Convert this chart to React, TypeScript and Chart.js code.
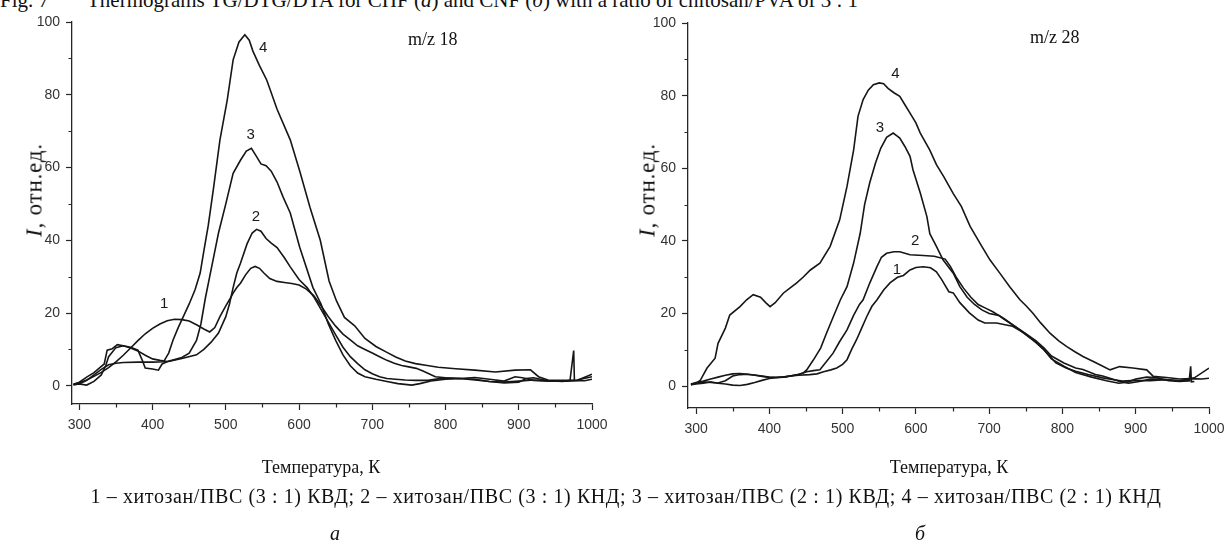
import React, { useEffect, useRef } from "react";
import { Chart, registerables } from "chart.js";

Chart.register(...registerables);

const W = 1227;
const H = 547;

// ---- axis ticks ----
const xTickValues = [300, 400, 500, 600, 700, 800, 900, 1000];
const xMinorValues = [350, 450, 550, 650, 750, 850, 950];
const yTickValues = [0, 20, 40, 60, 80, 100];
const yMinorValues = [10, 30, 50, 70, 90];

// ---- panel a: m/z 18 ----
const a1X = [292,300,310,320,330,340,350,360,370,380,390,400,410,420,430,440,450,460,470,478,485,492,500,506,510,515,520,527,534,540,546,552,560,570,580,590,600,610,620,630,640,650,660,670,680,690,700,710,720,730,740,750,760,770,786,800,820,840,860,880,895,905,920,940,960,980,1000];
const a1Y = [0.4,0.8,1.6,2.6,3.7,5.0,6.6,8.4,10.4,12.4,14.3,15.8,17.0,17.9,18.3,18.2,17.8,16.8,15.6,14.8,16.0,19.0,22.0,24.0,25.5,27.0,28.2,30.5,32.3,32.8,32.3,31.0,29.5,28.7,28.4,28.1,27.7,26.6,24.8,22.0,19.0,16.4,14.2,12.6,11.0,10.0,9.0,8.0,7.0,6.2,5.6,5.2,4.8,4.0,2.5,2.2,2.0,2.3,1.8,1.3,2.5,2.2,1.5,1.3,1.3,1.5,3.2];

const a2X = [292,300,310,320,328,334,338,345,352,360,370,380,386,390,400,408,413,420,440,460,470,480,490,500,505,510,515,520,529,536,542,548,555,562,570,580,588,600,611,620,630,640,650,660,670,680,690,700,710,720,732,745,760,776,790,800,820,840,860,880,900,910,920,940,960,970,975,976,990,1000];
const a2Y = [0.4,1.0,2.4,3.6,5.0,6.0,9.8,10.2,11.3,11.0,10.6,9.8,7.0,4.9,4.6,4.3,6.0,6.6,7.5,8.5,10.0,12.0,14.5,19.0,22.5,27.0,31.0,33.7,39.0,42.0,43.0,42.5,40.5,39.2,38.0,35.2,32.7,29.2,27.0,24.5,21.0,17.5,14.0,10.6,8.0,6.1,4.4,3.3,2.5,2.0,1.8,1.6,1.5,1.5,1.9,2.1,2.0,1.8,1.2,0.8,1.0,2.0,2.2,1.4,1.2,1.5,9.7,1.4,1.4,1.8];

const a3X = [292,300,310,320,330,336,340,350,360,370,380,390,400,410,420,430,440,450,460,466,472,478,484,490,500,510,520,528,535,542,548,555,562,570,578,588,601,619,630,640,650,660,670,680,690,705,720,735,754,765,780,800,820,840,860,880,900,920,940,960,975];
const a3Y = [0.3,0.5,0.2,1.2,3.0,5.5,8.0,10.5,11.0,10.4,9.6,8.4,7.4,7.0,6.7,7.2,7.8,9.0,12.5,17.0,24.0,30.0,36.0,42.0,50.0,58.4,62.0,64.5,65.3,63.0,61.0,60.5,59.0,56.0,52.0,47.5,38.0,27.0,22.5,17.0,12.5,8.5,5.5,3.5,2.5,1.8,1.2,0.6,0.2,0.6,1.3,1.8,2.0,1.6,1.2,1.0,1.3,1.6,1.4,1.3,1.4];

const a4X = [292,300,310,320,330,340,350,360,380,400,415,422,428,435,442,450,458,465,470,476,483,492,502,510,518,526,532,537,546,556,570,588,601,615,629,641,651,662,676,690,705,720,732,745,759,775,790,814,840,868,895,916,927,940,960,980,1000];
const a4Y = [0.3,0.5,1.5,3.0,4.5,5.8,6.2,6.4,6.5,6.5,6.6,9.0,12.6,16.0,19.0,22.5,26.4,31.0,37.0,44.0,54.0,67.6,78.6,89.6,94.5,96.5,95.0,92.0,88.0,84.0,76.0,67.6,59.0,49.0,40.0,28.8,23.4,18.8,16.5,13.0,10.8,9.2,7.9,6.8,6.1,5.6,5.1,4.7,4.3,3.8,4.3,4.4,2.5,1.6,1.5,1.6,2.5];

// ---- panel b: m/z 28 ----
const b1X = [293,300,310,320,330,340,350,360,370,380,390,400,420,440,455,465,474,484,492,500,506,512,519,526,533,540,547,556,565,575,583,592,600,610,620,628,635,645,651,660,673,685,694,710,720,732,745,760,775,791,805,818,835,855,870,882,900,920,940,960,980,1000];
const b1Y = [0.4,0.6,0.8,1.2,0.8,0.6,0.3,0.2,0.5,1.0,1.6,2.1,2.6,3.0,3.2,3.4,4.0,4.5,5.0,6.0,7.3,10.0,12.8,16.0,19.2,22.0,23.8,26.5,28.5,30.0,30.5,32.0,32.7,32.9,32.6,31.5,29.4,26.0,25.7,23.0,20.2,18.2,17.4,17.4,17.0,16.5,15.0,12.8,10.0,6.4,5.0,4.1,3.2,2.3,1.8,1.4,1.6,1.5,1.8,1.5,2.3,5.0];

const b2X = [293,300,310,320,330,340,350,360,370,380,390,400,420,440,451,460,469,478,487,496,506,515,523,528,537,547,553,560,570,578,592,610,625,640,647,655,665,675,685,695,705,713,720,735,750,764,775,785,802,818,828,845,855,868,877,890,905,920,940,960,973,975,976,980];
const b2Y = [0.6,1.0,1.4,2.0,2.5,3.0,3.4,3.5,3.3,3.0,2.7,2.4,2.5,3.2,4.0,4.3,4.5,6.8,9.1,12.3,15.5,19.5,22.5,23.8,28.4,33.0,35.5,36.6,37.0,37.0,36.2,36.0,35.8,35.0,33.0,30.0,27.0,24.5,22.5,21.5,20.5,19.5,18.5,16.5,14.5,12.5,10.5,8.3,6.4,5.0,4.6,3.2,2.8,2.0,1.4,0.8,1.3,2.0,1.8,1.5,1.6,5.5,1.2,1.3];

const b3X = [293,300,310,320,330,340,350,360,370,380,390,400,410,420,430,440,446,451,460,470,478,487,497,506,515,524,530,537,545,552,560,569,575,578,585,592,596,606,615,619,628,637,651,660,670,680,690,700,713,721,735,748,764,775,785,802,818,840,860,877,890,900,915,930,945,960,975];
const b3Y = [0.5,0.8,1.2,1.0,0.9,1.5,2.8,3.2,3.3,3.1,2.8,2.5,2.4,2.5,2.9,3.3,3.6,4.5,7.2,10.5,14.6,19.0,23.8,27.4,33.9,42.1,50.0,56.0,61.5,65.5,68.5,69.7,68.8,68.3,66.0,63.3,59.6,53.2,46.7,42.0,38.5,34.8,31.1,27.4,24.5,22.5,21.0,20.0,19.5,18.5,16.5,14.5,12.0,10.0,7.5,5.5,3.8,2.5,1.5,0.8,1.2,2.0,2.5,2.3,1.5,1.3,1.5];

const b4X = [293,300,306,315,326,330,340,346,360,369,378,388,395,401,408,419,428,437,446,456,469,483,496,506,515,521,528,535,542,550,556,562,570,578,585,592,600,606,619,628,638,651,662,674,690,701,715,728,742,751,760,770,783,795,806,817,828,840,851,865,878,896,915,924,942,960,975,990,1000];
const b4Y = [0.4,0.8,1.7,5.0,7.7,11.8,16.0,19.6,21.9,23.8,25.2,24.5,23.0,21.9,23.0,25.6,27.0,28.4,30.0,32.0,33.9,38.5,45.8,55.0,65.0,74.3,78.9,81.5,83.0,83.5,83.3,82.0,80.8,79.8,77.5,75.2,72.5,69.7,65.0,61.0,57.7,53.0,49.5,44.0,38.5,34.8,31.0,27.4,23.8,22.0,20.0,17.5,14.6,12.5,10.9,9.5,8.2,7.0,5.9,4.5,5.4,5.0,4.5,2.7,2.4,2.0,2.1,2.0,2.2];

// ---- curve number annotations (data coordinates) ----
const curveNumbers = ["1", "2", "3", "4"];
const aLabelX = [416, 541, 534, 551];
const aLabelY = [22.5, 46.5, 69, 93];
const bLabelX = [574, 599, 551, 572];
const bLabelY = [32, 40, 71, 86];

const LINE = "#161616";
const AXIS = "#262626";
const SANS = '"Liberation Sans", Arial, sans-serif';
const SERIF = '"Liberation Serif", "Times New Roman", serif';

type Frame = { left: number; right: number; top: number; bottom: number; xMin: number; yMin: number };

const frameA: Frame = { left: 72, right: 592, top: 22, bottom: 404, xMin: 290, yMin: -5 };
const frameB: Frame = { left: 688, right: 1209, top: 23, bottom: 408, xMin: 289, yMin: -6 };

const Y_AXIS_W = 50;
const X_AXIS_H = 30;

const minorTickPlugin = {
  id: "minorTicks",
  afterDraw(chart: any) {
    const { ctx, chartArea, scales } = chart;
    const x = scales.x;
    const y = scales.y;
    ctx.save();
    ctx.strokeStyle = AXIS;
    ctx.lineWidth = 1.2;
    ctx.beginPath();
    xMinorValues.forEach((v) => {
      const px = Math.round(x.getPixelForValue(v)) + 0.5;
      ctx.moveTo(px, chartArea.bottom);
      ctx.lineTo(px, chartArea.bottom + 3.5);
    });
    yMinorValues.forEach((v) => {
      const py = Math.round(y.getPixelForValue(v)) + 0.5;
      ctx.moveTo(chartArea.left, py);
      ctx.lineTo(chartArea.left - 3.5, py);
    });
    ctx.stroke();
    ctx.restore();
  },
};

const curveLabelPlugin = {
  id: "curveLabels",
  afterDatasetsDraw(chart: any, _args: any, opts: any) {
    const { ctx, scales } = chart;
    ctx.save();
    ctx.font = `15px ${SANS}`;
    ctx.fillStyle = "#1a1a1a";
    ctx.textAlign = "center";
    ctx.textBaseline = "middle";
    (opts.xs as number[]).forEach((xv, i) => {
      ctx.fillText(curveNumbers[i], scales.x.getPixelForValue(xv), scales.y.getPixelForValue(opts.ys[i]));
    });
    ctx.restore();
  },
};

function makeConfig(series: number[][][], frame: Frame, lx: number[], ly: number[]): any {
  return {
    type: "line",
    data: {
      datasets: series.map(([xs, ys]) => ({
        data: xs.map((xv, i) => ({ x: xv, y: ys[i] })),
        borderColor: LINE,
        borderWidth: 1.6,
        pointRadius: 0,
        tension: 0,
        fill: false,
      })),
    },
    options: {
      responsive: false,
      maintainAspectRatio: false,
      animation: false,
      events: [],
      layout: {
        padding: {
          left: frame.left - Y_AXIS_W,
          right: W - frame.right,
          top: frame.top,
          bottom: H - frame.bottom - X_AXIS_H,
        },
      },
      plugins: {
        legend: { display: false },
        tooltip: { enabled: false },
        curveLabels: { xs: lx, ys: ly },
      },
      scales: {
        x: {
          type: "linear",
          min: frame.xMin,
          max: 1000,
          afterBuildTicks: (s: any) => {
            s.ticks = xTickValues.map((v) => ({ value: v }));
          },
          afterFit: (s: any) => {
            s.height = X_AXIS_H;
            s.paddingLeft = 0;
            s.paddingRight = 0;
          },
          ticks: {
            callback: (v: any) => String(v),
            font: { family: SANS, size: 14 },
            color: "#333",
            padding: 7,
            maxRotation: 0,
            autoSkip: false,
          },
          grid: {
            drawOnChartArea: false,
            drawTicks: true,
            tickLength: 6,
            tickColor: AXIS,
            tickWidth: 1.2,
          },
          border: { display: true, color: AXIS, width: 1.3 },
        },
        y: {
          type: "linear",
          min: frame.yMin,
          max: 100,
          afterBuildTicks: (s: any) => {
            s.ticks = yTickValues.map((v) => ({ value: v }));
          },
          afterFit: (s: any) => {
            s.width = Y_AXIS_W;
            s.paddingTop = 0;
            s.paddingBottom = 0;
          },
          ticks: {
            callback: (v: any) => String(v),
            font: { family: SANS, size: 14 },
            color: "#333",
            padding: 6,
            autoSkip: false,
          },
          grid: {
            drawOnChartArea: false,
            drawTicks: true,
            tickLength: 6,
            tickColor: AXIS,
            tickWidth: 1.2,
          },
          border: { display: true, color: AXIS, width: 1.3 },
        },
      },
    },
    plugins: [minorTickPlugin, curveLabelPlugin],
  };
}

function Panel(props: { series: number[][][]; frame: Frame; lx: number[]; ly: number[] }) {
  const ref = useRef<HTMLCanvasElement>(null);
  useEffect(() => {
    const chart = new Chart(ref.current as HTMLCanvasElement, makeConfig(props.series, props.frame, props.lx, props.ly));
    return () => chart.destroy();
  }, []);
  return (
    <canvas
      ref={ref}
      width={W}
      height={H}
      style={{ position: "absolute", left: 0, top: 0, width: W, height: H }}
    />
  );
}

function Txt(props: { x: number; base: number; size: number; center?: boolean; italic?: boolean; spacing?: number; children: any }) {
  const { x, base, size, center, italic, spacing, children } = props;
  return (
    <div
      style={{
        position: "absolute",
        left: x,
        top: base - 0.8375 * size,
        fontSize: size,
        lineHeight: `${size}px`,
        fontFamily: SERIF,
        fontStyle: italic ? "italic" : "normal",
        letterSpacing: spacing ? `${spacing}px` : undefined,
        whiteSpace: "pre",
        color: "#111",
        transform: center ? "translateX(-50%)" : undefined,
      }}
    >
      {children}
    </div>
  );
}

function YLabel(props: { cx: number; cy: number }) {
  return (
    <div
      style={{
        position: "absolute",
        left: props.cx,
        top: props.cy,
        transform: "translate(-50%, -50%) rotate(-90deg)",
        fontFamily: SERIF,
        fontSize: 23,
        lineHeight: "23px",
        letterSpacing: "0.8px",
        whiteSpace: "pre",
        color: "#111",
      }}
    >
      <i>I</i>, отн.ед.
    </div>
  );
}

export default function App() {
  const seriesA = [
    [a1X, a1Y],
    [a2X, a2Y],
    [a3X, a3Y],
    [a4X, a4Y],
  ];
  const seriesB = [
    [b1X, b1Y],
    [b2X, b2Y],
    [b3X, b3Y],
    [b4X, b4Y],
  ];
  return (
    <div
      style={{
        position: "absolute",
        left: 0,
        top: 0,
        width: W,
        height: H,
        overflow: "hidden",
        background: "#fff",
      }}
    >
      <Txt x={0} base={8} size={21}>Fig. 7</Txt>
      <Txt x={87} base={8} size={21}>Thermograms TG/DTG/DTA for CHF (<i>a</i>) and CNF (<i>б</i>) with a ratio of chitosan/PVA of 3 : 1</Txt>
      <Panel series={seriesA} frame={frameA} lx={aLabelX} ly={aLabelY} />
      <Panel series={seriesB} frame={frameB} lx={bLabelX} ly={bLabelY} />
      <Txt x={408} base={45} size={18}>m/z 18</Txt>
      <Txt x={1030} base={43} size={18}>m/z 28</Txt>
      <YLabel cx={34} cy={190} />
      <YLabel cx={647} cy={190} />
      <Txt x={321} base={473} size={18} center>Температура, К</Txt>
      <Txt x={949} base={473} size={18} center>Температура, К</Txt>
      <Txt x={626} base={503} size={20} spacing={0.6} center>1 – хитозан/ПВС (3 : 1) КВД; 2 – хитозан/ПВС (3 : 1) КНД; 3 – хитозан/ПВС (2 : 1) КВД; 4 – хитозан/ПВС (2 : 1) КНД</Txt>
      <Txt x={335} base={540} size={20} center italic>а</Txt>
      <Txt x={920} base={540} size={20} center italic>б</Txt>
    </div>
  );
}
